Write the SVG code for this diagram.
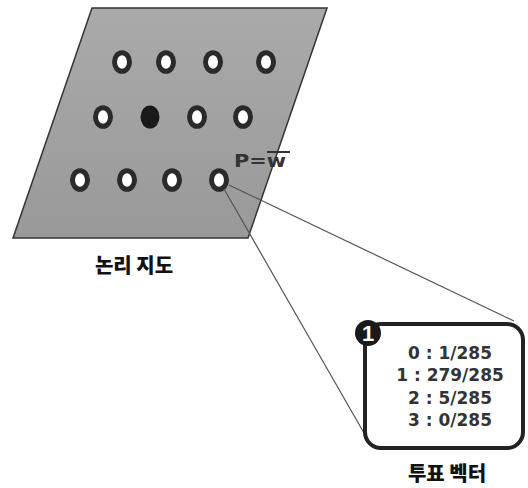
<svg xmlns="http://www.w3.org/2000/svg" width="528" height="488" viewBox="0 0 528 488">
  <defs>
    <linearGradient id="mapFill" x1="0" y1="0" x2="0" y2="1">
      <stop offset="0" stop-color="#aaaaaa"/>
      <stop offset="1" stop-color="#999999"/>
    </linearGradient>
    <style>
      .cell { fill: #ffffff; stroke: #2a2a2a; stroke-width: 5; }
      .win { fill: #1a1a1a; }
      .link { stroke: #555555; stroke-width: 1.2; fill: none; }
      .label { font-family: "Noto Sans CJK KR", "Noto Sans", sans-serif; font-weight: 900; font-size: 20px; fill: #111111; text-anchor: middle; }
      .vote { font-family: "DejaVu Sans", sans-serif; font-weight: 700; font-size: 17px; fill: #333333; text-anchor: middle; }
    </style>
  </defs>

  <!-- logical map: parallelogram with node grid -->
  <g id="map">
    <polygon points="92,8 327,8 248,238 13,238" fill="url(#mapFill)" stroke="#333333" stroke-width="1.5"/>
    <ellipse class="cell" cx="122" cy="62" rx="7.5" ry="9.3"/>
    <ellipse class="cell" cx="166" cy="62" rx="7.5" ry="9.3"/>
    <ellipse class="cell" cx="213" cy="62" rx="7.5" ry="9.3"/>
    <ellipse class="cell" cx="266" cy="62" rx="7.5" ry="9.3"/>
    <ellipse class="cell" cx="103" cy="117" rx="7.5" ry="9.3"/>
    <ellipse class="win" cx="150" cy="117" rx="9.5" ry="11.5"/>
    <ellipse class="cell" cx="197" cy="117" rx="7.5" ry="9.3"/>
    <ellipse class="cell" cx="243" cy="117" rx="7.5" ry="9.3"/>
    <ellipse class="cell" cx="80" cy="180" rx="7.5" ry="9.3"/>
    <ellipse class="cell" cx="127" cy="180" rx="7.5" ry="9.3"/>
    <ellipse class="cell" cx="172" cy="180" rx="7.5" ry="9.3"/>
    <ellipse class="cell" cx="219" cy="180" rx="7.5" ry="9.3"/>
    <text x="234" y="167" font-family="DejaVu Sans, sans-serif" font-weight="700" font-size="17" fill="#333333" textLength="52" lengthAdjust="spacingAndGlyphs">P=w</text>
    <line x1="267" y1="152" x2="290" y2="152" stroke="#333333" stroke-width="2"/>
  </g>
  <g id="map-label">
    <text class="label" x="134" y="273">논리 지도</text>
  </g>

  <!-- zoom connectors -->
  <g id="connectors">
    <line class="link" x1="229" y1="185" x2="514" y2="321"/>
    <line class="link" x1="224" y1="189" x2="364" y2="433"/>
  </g>

  <!-- vote vector box -->
  <g id="vote-vector">
    <rect x="365" y="324" width="158" height="124" rx="16" ry="16" fill="#ffffff" stroke="#222222" stroke-width="4"/>
    <circle cx="368" cy="333" r="13" fill="#1a1a1a"/>
    <text x="368" y="341" font-family="Liberation Sans, sans-serif" font-weight="700" font-size="22" fill="#ffffff" text-anchor="middle">1</text>
    <text class="vote" x="450" y="359">0 : 1/285</text>
    <text class="vote" x="450" y="381">1 : 279/285</text>
    <text class="vote" x="450" y="404">2 : 5/285</text>
    <text class="vote" x="450" y="426">3 : 0/285</text>
  </g>
  <g id="vote-label">
    <text class="label" x="447" y="481">투표 벡터</text>
  </g>
</svg>
